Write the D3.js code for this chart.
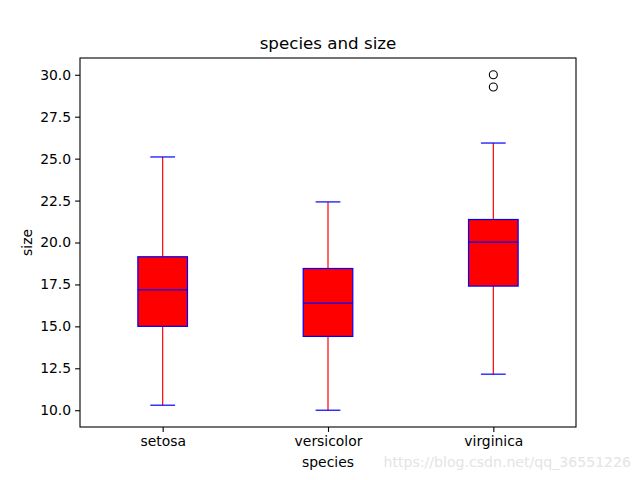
<!DOCTYPE html>
<html>
<head>
<meta charset="utf-8">
<script src="https://cdn.jsdelivr.net/npm/d3@7/dist/d3.min.js"></script>
<style>
body { margin: 0; background: #fff; }
svg { display: block; }
text { font-family: "DejaVu Sans", sans-serif; }
</style>
</head>
<body>
<svg id="chart" width="640" height="480"></svg>
<script>
const categories = ["setosa", "versicolor", "virginica"];
const whiskerLow = [10.3, 10.0, 12.15];
const q1 = [15.0, 14.4, 17.4];
const median = [17.17, 16.38, 20.02];
const q3 = [19.15, 18.45, 21.37];
const whiskerHigh = [25.1, 22.42, 25.93];
const outliers = [[], [], [30.0, 29.27]];
const yTicks = [10.0, 12.5, 15.0, 17.5, 20.0, 22.5, 25.0, 27.5, 30.0];

(function () {
const svg = d3.select("#chart");
const mL = 80, mR = 576, mT = 58, mB = 427;

const x = d3.scaleLinear().domain([0.5, 3.5]).range([mL, mR]);
const y = d3.scaleLinear().domain([9.0, 31.0]).range([mB, mT]);
const step = x(2) - x(1);
const boxW = step * 0.3;
const capW = boxW * 0.5;

const g = svg.append("g");

categories.forEach((c, i) => {
  const cx = x(i + 1);
  g.append("line").attr("x1", cx).attr("x2", cx).attr("y1", y(q1[i])).attr("y2", y(whiskerLow[i]))
    .attr("stroke", "red").attr("stroke-width", 1.2);
  g.append("line").attr("x1", cx).attr("x2", cx).attr("y1", y(q3[i])).attr("y2", y(whiskerHigh[i]))
    .attr("stroke", "red").attr("stroke-width", 1.2);
  [whiskerLow[i], whiskerHigh[i]].forEach(v => {
    g.append("line").attr("x1", cx - capW / 2).attr("x2", cx + capW / 2).attr("y1", y(v)).attr("y2", y(v))
      .attr("stroke", "blue").attr("stroke-width", 1.2);
  });
  g.append("rect").attr("x", cx - boxW / 2).attr("width", boxW)
    .attr("y", y(q3[i])).attr("height", y(q1[i]) - y(q3[i]))
    .attr("fill", "red").attr("stroke", "blue").attr("stroke-width", 1.2);
  g.append("line").attr("x1", cx - boxW / 2).attr("x2", cx + boxW / 2).attr("y1", y(median[i])).attr("y2", y(median[i]))
    .attr("stroke", "blue").attr("stroke-width", 1.2);
  outliers[i].forEach(v => {
    g.append("circle").attr("cx", cx).attr("cy", y(v)).attr("r", 4)
      .attr("fill", "none").attr("stroke", "black").attr("stroke-width", 1.1);
  });
});

const yAxis = d3.axisLeft(y).tickValues(yTicks).tickFormat(d3.format(".1f")).tickSizeOuter(0).tickSize(4.9).tickPadding(4);
const xAxis = d3.axisBottom(x).tickValues([1, 2, 3]).tickFormat((d) => categories[d - 1]).tickSizeOuter(0).tickSize(4.9).tickPadding(4);

const ya = svg.append("g").attr("transform", `translate(${mL},0)`).call(yAxis);
const xa = svg.append("g").attr("transform", `translate(0,${mB})`).call(xAxis);
[ya, xa].forEach(a => {
  a.select(".domain").remove();
  a.selectAll("text").attr("font-size", 13.9).attr("fill", "#000").attr("font-family", "DejaVu Sans, sans-serif");
  a.selectAll("line").attr("stroke", "#000").attr("stroke-width", 1.1);
});

svg.append("rect").attr("x", mL).attr("y", mT).attr("width", mR - mL).attr("height", mB - mT)
  .attr("fill", "none").attr("stroke", "#000").attr("stroke-width", 1.1);

svg.append("text").attr("x", (mL + mR) / 2).attr("y", 49).attr("text-anchor", "middle")
  .attr("font-size", 16.7).text("species and size");
svg.append("text").attr("x", (mL + mR) / 2).attr("y", 467).attr("text-anchor", "middle")
  .attr("font-size", 13.9).text("species");
svg.append("text").attr("transform", `translate(32,${(mT + mB) / 2}) rotate(-90)`).attr("text-anchor", "middle")
  .attr("font-size", 13.9).text("size");

svg.append("text").attr("x", 631).attr("y", 467).attr("text-anchor", "end")
  .attr("font-family", "Liberation Sans, Arial, sans-serif").attr("font-size", 14.1)
  .attr("fill", "#e4e4e4").text("https://blog.csdn.net/qq_36551226");
})();
</script>
</body>
</html>
